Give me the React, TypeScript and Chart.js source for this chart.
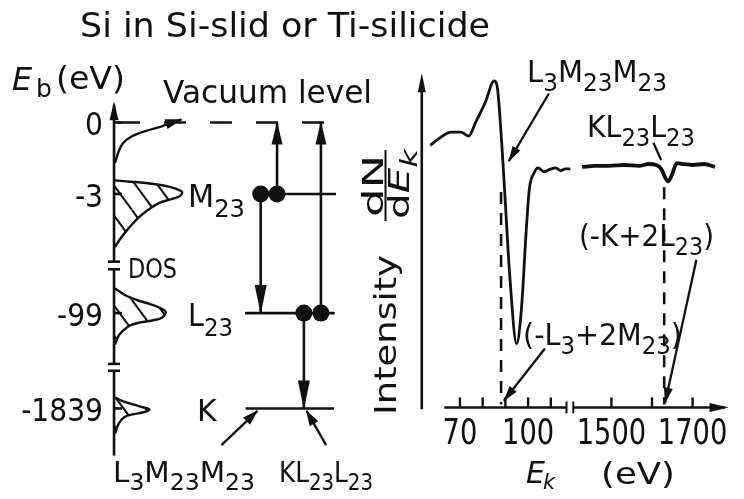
import React, { useEffect, useRef } from 'react';
import { Chart, registerables } from 'chart.js';

Chart.register(...registerables);

const W = 744;
const H = 499;
const INK = '#111';
const FONT = '"DejaVu Sans", sans-serif';

// ---------------- Left panel: binding-energy level diagram ----------------
// broken Eb axis: label -> place on the broken axis
const bindingTickLabels = ['0', '-3', '-99', '-1839'];
const bindingTickPos = [0, -3, -8, -12];
const levelLabels = ['M_23', 'L_23', 'K'];
const levelPos = [-3, -8, -12];
const levelStart = [2.16, 2.0, 2.01];
const levelEnd = [3.39, 3.37, 3.36];
const vacuumPos = 0;
const vacuumStart = 0.06;
const vacuumEnd = 3.55;

// DOS curves (amplitude, place on Eb axis)
const tailAmp = [0.015, 0.06, 0.13, 0.28, 0.48, 0.73, 0.93, 1.03];
const tailPos = [-1.7, -1.3, -0.89, -0.57, -0.36, -0.16, 0.04, 0.12];
const m23Amp = [0.015, 0.18, 0.37, 0.63, 0.82, 0.96, 1.04, 1.01, 0.9, 0.7, 0.55, 0.4, 0.28, 0.18, 0.09, 0.015];
const m23Pos = [-2.43, -2.47, -2.51, -2.59, -2.68, -2.8, -2.92, -3.08, -3.2, -3.36, -3.61, -3.93, -4.26, -4.58, -4.9, -5.23];
const l23Amp = [0.015, 0.18, 0.36, 0.55, 0.7, 0.79, 0.73, 0.58, 0.4, 0.25, 0.13, 0.06, 0.015];
const l23Pos = [-6.97, -7.26, -7.46, -7.62, -7.78, -7.95, -8.19, -8.31, -8.39, -8.51, -8.76, -9.0, -9.32];
const kAmp = [0.015, 0.15, 0.3, 0.45, 0.54, 0.45, 0.3, 0.16, 0.07, 0.015];
const kPos = [-11.55, -11.71, -11.84, -11.96, -12.04, -12.16, -12.24, -12.36, -12.65, -13.05];

// electrons and transitions
const electronCol = [2.24, 2.49, 2.9, 3.16];
const electronPos = [-3, -3, -8, -8];
const transCol = [2.24, 2.49, 3.16, 2.9];
const transFrom = [-3, -3, -8, -8];
const transTo = [-8, 0, 0, -12];

// Auger labels under the diagram and their pointers
const augerLabels = ['L_3M_23M_23', 'KL_23L_23'];
const augerFromCol = [1.64, 3.24];
const augerFromPos = [-13.54, -13.54];
const augerToCol = [2.19, 2.94];
const augerToPos = [-12.1, -12.1];

// ---------------- Right panel: dN/dEk spectrum ----------------
const lowE = [56.97, 60.54, 66.13, 70.43, 73.87, 76.88, 81.18, 85.05, 86.34, 88.49, 89.78, 91.94, 94.95, 97.1, 99.25, 100.54, 102.69, 104.41, 106.99, 109.14, 112.15, 114.3, 116.45, 118.6];
const lowI = [2.43, 3.1, 3.8, 3.8, 3.4, 4.8, 6.9, 9.1, 8.6, 2.3, -2.7, -11.1, -18.1, -14.4, -6.1, -2.1, -0.4, 0.1, -0.3, -0.1, 0.1, -0.2, 0.0, 0.0];
const highE = [1427.8, 1459.1, 1495.2, 1531.3, 1567.4, 1591.5, 1610.7, 1622.7, 1632.4, 1639.6, 1649.2, 1661.3, 1675.7, 1699.8, 1728.6, 1755.1];
const highI = [0.2, 0.3, 0.3, 0.4, 0.3, 0.5, 0.4, 0.0, -0.9, -1.3, -0.6, 0.6, 0.5, 0.4, 0.5, 0.2];

const lowTicks = [70, 80, 90, 100, 110];
const highTicks = [1500, 1600, 1700];
const tickLabelE = [70, 100, 1500, 1700];
const tickLabels = ['70', '100', '1500', '1700'];

// dashed markers under the Auger features
const markE = [88.1, 1630];
const markTop = [-2.4, -1.9];

// pointer lines: [fromE, fromI, toE, toI]
const pointerFromE = [109.14, 1603.5, 1709.4, 107.42];
const pointerFromI = [7.8, 2.7, -9.4, -18.6];
const pointerToE = [91.51, 1622.7, 1632.4, 89.35];
const pointerToI = [0.8, 0.9, -24.2, -24.0];
const pointerHasHead = [true, false, true, true];

const spectrumLabels = ['L_3M_23M_23', 'KL_23L_23', '(-K+2L_23)', '(-L_3+2M_23)'];

// broken Ek axis: low range in eV, high range compressed
function ekAxis(e: number) {
  return e < 1000 ? e : 136.67 + (e - 1500) * 0.1787;
}

// ---------------- helpers ----------------
type Part = { t: string; sub?: boolean; it?: boolean };

function parseRich(s: string): Part[] {
  const parts: Part[] = [];
  let i = 0;
  while (i < s.length) {
    if (s[i] === '_') {
      let j = i + 1;
      while (j < s.length && /[0-9]/.test(s[j])) j++;
      parts.push({ t: s.slice(i + 1, j), sub: true });
      i = j;
    } else {
      let j = i;
      while (j < s.length && s[j] !== '_') j++;
      parts.push({ t: s.slice(i, j) });
      i = j;
    }
  }
  return parts;
}

function drawRich(ctx: CanvasRenderingContext2D, s: string | Part[], x: number, y: number, o: any) {
  const parts = typeof s === 'string' ? parseRich(s) : s;
  const fs = o.size;
  const ss = fs * (o.subScale ?? 0.8);
  const fontOf = (p: Part) => `${p.it ? 'italic ' : ''}${p.sub ? ss : fs}px ${FONT}`;
  const ws: number[] = [];
  let w = 0;
  for (const p of parts) {
    ctx.font = fontOf(p);
    const m = ctx.measureText(p.t).width;
    ws.push(m);
    w += m;
  }
  const sx = o.fitW ? o.fitW / w : o.sx ?? 1;
  ctx.save();
  ctx.translate(x, y);
  if (o.rot) ctx.rotate(o.rot);
  ctx.scale(sx, 1);
  let cx = o.align === 'center' ? -w / 2 : o.align === 'right' ? -w : 0;
  ctx.textAlign = 'left';
  ctx.textBaseline = 'alphabetic';
  ctx.fillStyle = INK;
  parts.forEach((p, i) => {
    ctx.font = fontOf(p);
    ctx.fillText(p.t, cx, p.sub ? fs * (o.subDrop ?? 0.3) : 0);
    cx += ws[i];
  });
  ctx.restore();
}

function arrowHead(ctx: CanvasRenderingContext2D, x0: number, y0: number, x1: number, y1: number, len: number, hw: number) {
  const a = Math.atan2(y1 - y0, x1 - x0);
  ctx.save();
  ctx.translate(x1, y1);
  ctx.rotate(a);
  ctx.beginPath();
  ctx.moveTo(1, 0);
  ctx.lineTo(-len, -hw);
  ctx.lineTo(-len, hw);
  ctx.closePath();
  ctx.fill();
  ctx.restore();
}

function makeHatch(): CanvasPattern | string {
  const w = 22;
  const h = 30;
  const c = document.createElement('canvas');
  c.width = w;
  c.height = h;
  const g = c.getContext('2d');
  if (!g) return 'rgba(0,0,0,0)';
  g.strokeStyle = INK;
  g.lineWidth = 2;
  for (const dx of [-w, 0, w]) {
    g.beginPath();
    g.moveTo(dx, 0);
    g.lineTo(dx + w, h);
    g.stroke();
  }
  return g.createPattern(c, 'repeat') || 'rgba(0,0,0,0)';
}

function spanX(v0: number, p0: number, ppu: number) {
  const min = v0 - p0 / ppu;
  return { min, max: min + W / ppu };
}
function spanY(v0: number, p0: number, ppu: number) {
  const max = v0 + p0 / ppu;
  return { min: max - H / ppu, max };
}

const diagramPlugin = {
  id: 'diagram',
  afterDatasetsDraw(chart: any) {
    const ctx: CanvasRenderingContext2D = chart.ctx;
    const { xL, yL, xR, yR } = chart.scales;
    const LX = (v: number) => xL.getPixelForValue(v);
    const LY = (v: number) => yL.getPixelForValue(v);
    const RX = (v: number) => xR.getPixelForValue(v);
    const RY = (v: number) => yR.getPixelForValue(v);
    const seg = (x0: number, y0: number, x1: number, y1: number) => {
      ctx.beginPath();
      ctx.moveTo(x0, y0);
      ctx.lineTo(x1, y1);
      ctx.stroke();
    };
    ctx.save();
    ctx.strokeStyle = INK;
    ctx.fillStyle = INK;
    ctx.lineWidth = 2.6;

    // arrowheads of flagged datasets
    chart.data.datasets.forEach((ds: any, i: number) => {
      if (!ds.arrowHead) return;
      const pts = chart.getDatasetMeta(i).data;
      const a = pts[pts.length - 2];
      const b = pts[pts.length - 1];
      arrowHead(ctx, a.x, a.y, b.x, b.y, ds.arrowHead[0], ds.arrowHead[1]);
    });

    // ---- left broken Eb axis ----
    const ax = LX(0);
    const lSegs = [[0.75, -5.84], [-6.16, -10.13], [-10.42, -13.98]];
    lSegs.forEach(([a, b]) => seg(ax, LY(a), ax, LY(b)));
    arrowHead(ctx, ax, LY(0), ax, LY(0.85), 18, 4.5);
    [-5.84, -6.16, -10.13, -10.42].forEach((u) => seg(ax - 6, LY(u), ax + 6, LY(u)));
    bindingTickPos.forEach((u, i) => {
      seg(ax, LY(u), ax + 8, LY(u));
      drawRich(ctx, bindingTickLabels[i], ax - 11, LY(u) + 13, { size: 32, sx: 0.88, align: 'right' });
    });

    // ---- right axes ----
    const yAxX = RX(53.2);
    seg(yAxX, RY(-24.9), yAxX, RY(9.0));
    arrowHead(ctx, yAxX, RY(0), yAxX, RY(9.8), 18, 4);
    const axY = RY(-24.7);
    seg(RX(63.1), axY, RX(116.9), axY);
    seg(RX(119.9), axY, RX(186.5), axY);
    arrowHead(ctx, RX(150), axY, RX(187.8), axY, 18, 4.5);
    ctx.lineWidth = 2;
    [116.9, 119.9].forEach((u) => seg(RX(u), axY - 6, RX(u), axY + 6));
    ctx.lineWidth = 2.4;
    [...lowTicks, ...highTicks].forEach((e) => {
      const px = RX(ekAxis(e));
      seg(px, axY, px, axY - 10);
    });
    tickLabelE.forEach((e, i) => {
      drawRich(ctx, tickLabels[i], RX(ekAxis(e)), axY + 37, { size: 35, sx: 0.78, align: 'center' });
    });

    // ---- texts, left ----
    drawRich(ctx, 'Si in Si-slid or Ti-silicide', 80, 37, { size: 33, fitW: 410 });
    drawRich(ctx, [{ t: 'E', it: true }], 12, 90, { size: 32 });
    drawRich(ctx, 'b', 36, 97, { size: 25 });
    drawRich(ctx, '(eV)', 56, 89, { size: 32, fitW: 69 });
    drawRich(ctx, 'Vacuum level', 163, 103, { size: 32, fitW: 209 });
    const lvlW = [57, 45, 0];
    levelPos.forEach((u, i) => {
      drawRich(ctx, levelLabels[i], i === 2 ? 197 : 188, LY(u) + 13, { size: i === 2 ? 30 : 32, fitW: lvlW[i] || undefined });
    });
    drawRich(ctx, 'DOS', 128, 278, { size: 26, fitW: 49 });
    drawRich(ctx, augerLabels[0], 113, 482, { size: 28, fitW: 142 });
    drawRich(ctx, augerLabels[1], 279, 482, { size: 28, fitW: 94 });

    // ---- texts, right ----
    drawRich(ctx, spectrumLabels[0], 527, 82, { size: 30, fitW: 140 });
    drawRich(ctx, spectrumLabels[1], 587, 137, { size: 31, fitW: 108 });
    drawRich(ctx, spectrumLabels[2], 579, 246, { size: 30, fitW: 135 });
    drawRich(ctx, spectrumLabels[3], 523, 345, { size: 30, fitW: 159 });
    drawRich(ctx, [{ t: 'E', it: true }], 526, 483, { size: 30 });
    drawRich(ctx, [{ t: 'k', it: true }], 543, 489, { size: 21 });
    drawRich(ctx, '(eV)', 601, 484, { size: 30, fitW: 74 });

    const rot = -Math.PI / 2;
    drawRich(ctx, 'dN', 383, 186, { size: 28, fitW: 62, align: 'center', rot });
    ctx.lineWidth = 2;
    seg(385.5, 150, 385.5, 221);
    drawRich(ctx, [{ t: 'd' }, { t: 'E', it: true }, { t: 'k', it: true, sub: true }], 409, 184, { size: 28, fitW: 70, align: 'center', rot });
    drawRich(ctx, 'Intensity', 396, 335, { size: 31, fitW: 160, align: 'center', rot });

    ctx.restore();
  },
};

export default function App() {
  const ref = useRef<HTMLCanvasElement>(null);

  useEffect(() => {
    const canvas = ref.current;
    if (!canvas) return;
    const hatch = makeHatch();
    const zip = (xs: number[], ys: number[]) => xs.map((x, i) => ({ x, y: ys[i] }));
    const L = { xAxisID: 'xL', yAxisID: 'yL' };
    const R = { xAxisID: 'xR', yAxisID: 'yR' };
    const line = (data: any[], extra: any = {}) => ({
      data,
      showLine: true,
      pointRadius: 0,
      borderColor: INK,
      borderWidth: 2.6,
      fill: false,
      tension: 0,
      ...extra,
    });
    const datasets: any[] = [];

    // DOS peaks (hatched) and tail
    [
      [m23Amp, m23Pos],
      [l23Amp, l23Pos],
      [kAmp, kPos],
    ].forEach(([a, p]) =>
      datasets.push({ ...L, ...line(zip(a, p), { fill: 'shape', backgroundColor: hatch, tension: 0.35, borderWidth: 2.4 }) })
    );
    datasets.push({ ...L, ...line(zip(tailAmp, tailPos), { tension: 0.35, borderWidth: 2.4 }), arrowHead: [16, 5] });

    // vacuum level and core levels
    datasets.push({ ...L, ...line([{ x: vacuumStart, y: vacuumPos }, { x: vacuumEnd, y: vacuumPos }], { borderDash: [22, 24] }) });
    levelPos.forEach((p, i) => datasets.push({ ...L, ...line([{ x: levelStart[i], y: p }, { x: levelEnd[i], y: p }]) }));

    // transitions
    transCol.forEach((c, i) =>
      datasets.push({
        ...L,
        ...line([{ x: c, y: transFrom[i] }, { x: c, y: transTo[i] }]),
        arrowHead: transTo[i] === 0 ? [22, 5.5] : [28, 6],
      })
    );
    datasets.push({ ...L, data: zip(electronCol, electronPos), showLine: false, pointRadius: 8.5, pointBackgroundColor: INK, pointBorderWidth: 0 });
    augerFromCol.forEach((c, i) =>
      datasets.push({ ...L, ...line([{ x: c, y: augerFromPos[i] }, { x: augerToCol[i], y: augerToPos[i] }], { borderWidth: 2.3 }), arrowHead: [15, 5] })
    );

    // spectrum
    datasets.push({ ...R, ...line(zip(lowE.map(ekAxis), lowI), { cubicInterpolationMode: 'monotone', borderWidth: 2.8 }) });
    datasets.push({ ...R, ...line(zip(highE.map(ekAxis), highI), { cubicInterpolationMode: 'monotone', borderWidth: 3.8 }) });
    markE.forEach((e, i) =>
      datasets.push({ ...R, ...line([{ x: ekAxis(e), y: markTop[i] }, { x: ekAxis(e), y: -24.4 }], { borderDash: [12, 9], borderWidth: 2.6 }) })
    );
    pointerFromE.forEach((e, i) =>
      datasets.push({
        ...R,
        ...line([{ x: ekAxis(e), y: pointerFromI[i] }, { x: ekAxis(pointerToE[i]), y: pointerToI[i] }], { borderWidth: 2.3 }),
        arrowHead: pointerHasHead[i] ? [15, 4.5] : undefined,
      })
    );

    const chart = new Chart(canvas, {
      type: 'scatter',
      data: { datasets },
      options: {
        animation: false,
        responsive: false,
        devicePixelRatio: 1,
        events: [],
        layout: { padding: 0 },
        plugins: { legend: { display: false }, title: { display: false }, tooltip: { enabled: false } },
        scales: {
          xL: { type: 'linear', display: false, ...spanX(0, 108, 67) },
          yL: { type: 'linear', display: false, ...spanY(0, 118, 24.67) },
          xR: { type: 'linear', display: false, ...spanX(70, 462, 2.325) },
          yR: { type: 'linear', display: false, ...spanY(0, 166, 10) },
        },
      } as any,
      plugins: [diagramPlugin],
    });
    return () => chart.destroy();
  }, []);

  return (
    <div style={{ position: 'absolute', left: 0, top: 0, width: W, height: H, background: '#fff' }}>
      <canvas ref={ref} width={W} height={H} style={{ display: 'block', width: W, height: H }} />
    </div>
  );
}
